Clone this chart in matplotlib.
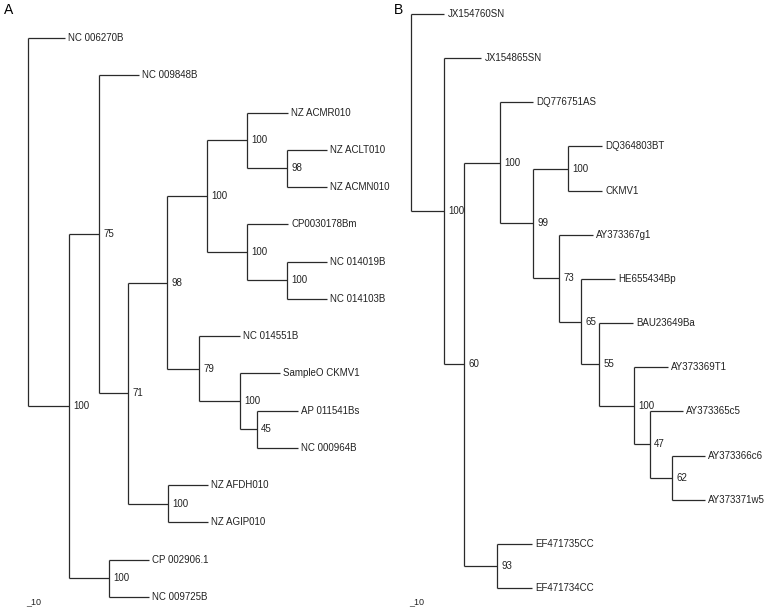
import matplotlib
matplotlib.use("Agg")
import matplotlib.pyplot as plt

plt.rcParams["font.family"] = ["Liberation Sans", "DejaVu Sans"]

# Trees as Newick strings: leaf names (underscore = space), branch lengths,
# internal labels = bootstrap support.
TREE_A = ("(NC_006270B:37,((NC_009848B:40,((((NZ_ACMR010:41,(NZ_ACLT010:40,"
          "NZ_ACMN010:40)98:40)100:40,(CP0030178Bm:41,(NC_014019B:40,"
          "NC_014103B:40)100:40)100:40)100:40,(NC_014551B:41,(SampleO_CKMV1:40,"
          "(AP_011541Bs:41,NC_000964B:41)45:17)100:41)79:32)98:39,"
          "(NZ_AFDH010:40,NZ_AGIP010:40)100:40)71:29)75:30,"
          "(CP_002906.1:40,NC_009725B:40)100:40)100:41);")

TREE_B = ("(JX154760SN:33,(JX154865SN:37,((DQ776751AS:33,((DQ364803BT:34,"
          "CKMV1:34)100:35,(AY373367g1:34,(HE655434Bp:34,(BAU23649Ba:34,"
          "(AY373369T1:34,(AY373365c5:33,(AY373366c6:33,AY373371w5:33)62:22)"
          "47:16)100:35)55:18)65:22)73:26)99:33)100:36,(EF471735CC:35,"
          "EF471734CC:35)93:33)60:20)100:33);")

PANELS = ["A", "B"]
SCALE_TEXT = "_10"


def parse_newick(s):
    pos = 0

    def node():
        nonlocal pos
        children = []
        if s[pos] == "(":
            pos += 1
            children.append(node())
            while s[pos] == ",":
                pos += 1
                children.append(node())
            pos += 1
        start = pos
        while s[pos] not in ":,();":
            pos += 1
        name = s[start:pos].replace("_", " ")
        length = 0.0
        if s[pos] == ":":
            pos += 1
            start = pos
            while s[pos] not in ",();":
                pos += 1
            length = float(s[start:pos])
        return {"name": name, "len": length, "children": children}

    return node()


def layout(tree):
    counter = [0]

    def walk(n, x):
        n["x"] = x
        if not n["children"]:
            n["y"] = counter[0]
            counter[0] += 1
        else:
            for c in n["children"]:
                walk(c, x + c["len"])
            n["y"] = (n["children"][0]["y"] + n["children"][-1]["y"]) / 2
    walk(tree, 0.0)
    return counter[0]


def draw_tree(ax, tree, lc="#2a2a2a", lw=0.9, fs=7):
    def walk(n, parent):
        if parent is not None:
            ax.plot([parent["x"], n["x"]], [n["y"], n["y"]], color=lc, lw=lw,
                    solid_capstyle="butt")
        if n["children"]:
            ys = [c["y"] for c in n["children"]]
            ax.plot([n["x"], n["x"]], [min(ys), max(ys)], color=lc, lw=lw,
                    solid_capstyle="butt")
            if parent is not None and n["name"]:
                ax.annotate(n["name"], (n["x"], n["y"]), xytext=(3, 0),
                            textcoords="offset points", va="center", ha="left",
                            fontsize=fs, color="#222222")
            for c in n["children"]:
                walk(c, n)
        else:
            ax.annotate(n["name"], (n["x"], n["y"]), xytext=(2.5, 0),
                        textcoords="offset points", va="center", ha="left",
                        fontsize=fs, color="#222222")
    walk(tree, None)


W, H = 764, 607
fig = plt.figure(figsize=(W / 100, H / 100), dpi=100)

# (left px, width px, root x px, first leaf y px, last leaf y px)
geo = {"A": (0, 390, 28, 38, 597), "B": (390, 374, 411, 14, 588)}

for panel, newick in zip(PANELS, [TREE_A, TREE_B]):
    tree = parse_newick(newick)
    nleaf = layout(tree)
    left, width, root_px, y0, y1 = geo[panel]
    ax = fig.add_axes([left / W, 0, width / W, 1])
    ax.set_axis_off()
    ax.set_xlim(-(root_px - left), width - (root_px - left))
    step = (y1 - y0) / (nleaf - 1)
    ax.set_ylim((H - y0) / step, -y0 / step)
    draw_tree(ax, tree)
    fig.text((left + 4) / W, 1 - 10 / H, panel, fontsize=10, va="center",
             ha="left")
    fig.text((root_px - 2) / W, 1 - 602 / H, SCALE_TEXT, fontsize=6.5,
             va="center", ha="left", color="#222222")

fig.savefig("out.png", dpi=100)
